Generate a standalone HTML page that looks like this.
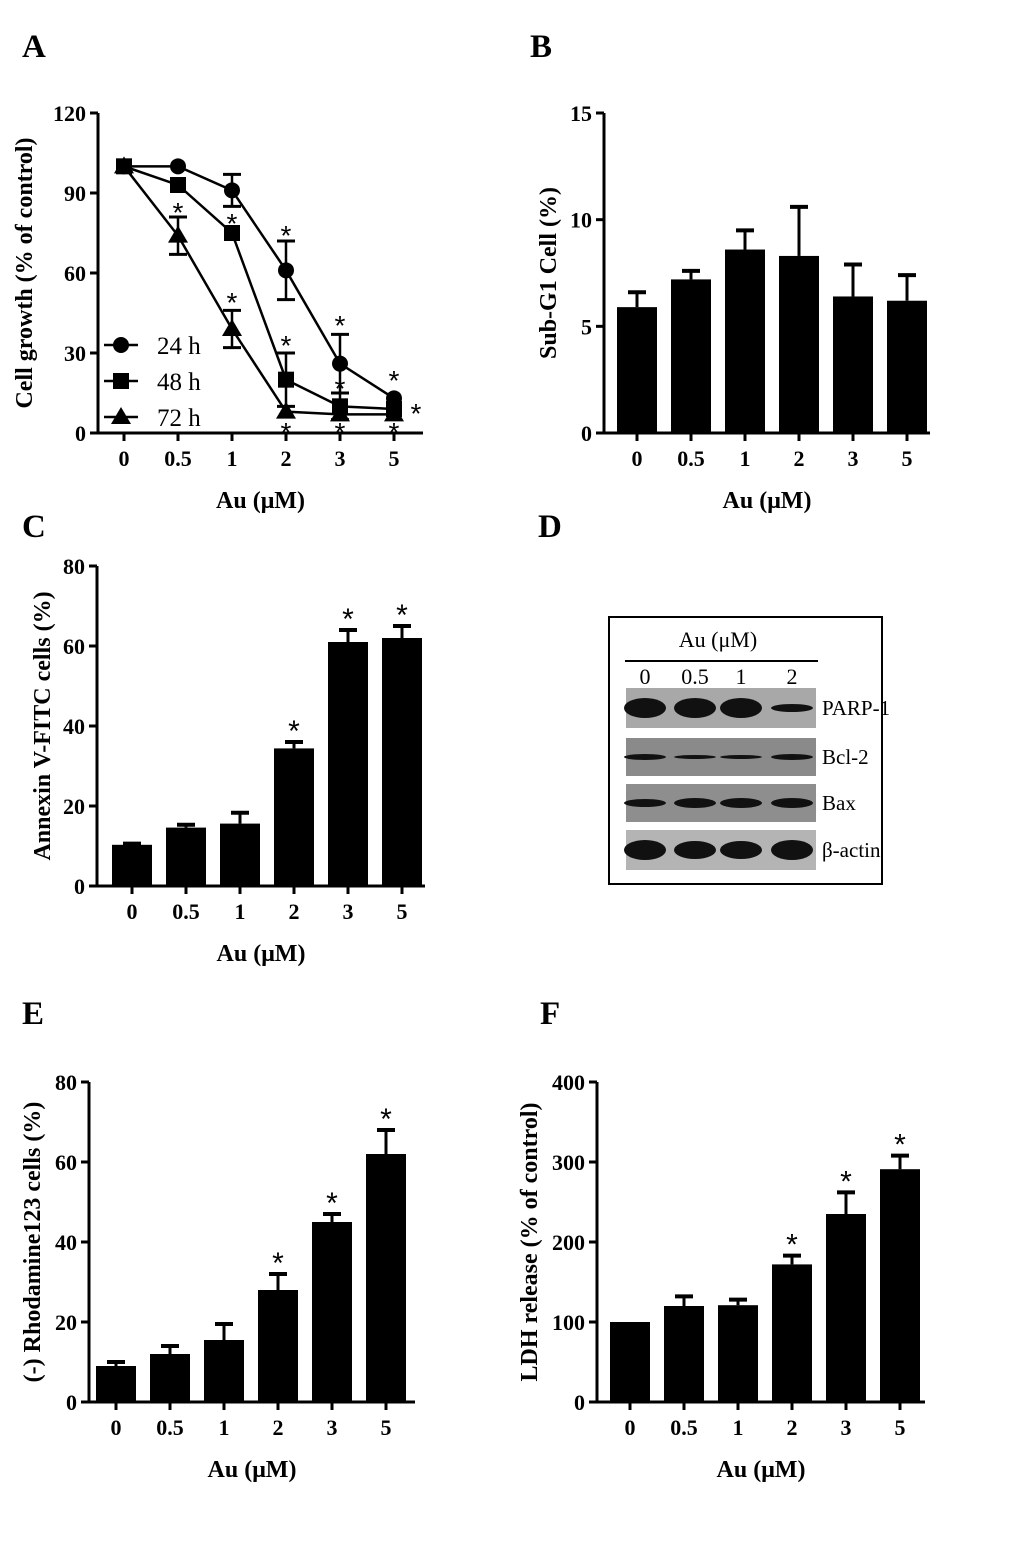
<!DOCTYPE html>
<html><head><meta charset="utf-8"><style>
body{margin:0;background:#fff;}
svg{display:block;font-family:"Liberation Serif",serif;}
.pl{font-size:33px;font-weight:bold;}
.tk{font-size:22px;font-weight:bold;}
.at{font-size:24px;font-weight:bold;}
</style></head><body>
<svg id="fig" width="1033" height="1549" viewBox="0 0 1033 1549">
<text class="pl" x="22" y="57">A</text>
<text class="pl" x="530" y="57">B</text>
<text class="pl" x="22" y="537">C</text>
<text class="pl" x="538" y="537">D</text>
<text class="pl" x="22" y="1024">E</text>
<text class="pl" x="540" y="1024">F</text>
</svg>
<script>
const categories=["0","0.5","1","2","3","5"];
// Panel A
const aTicks=[0,30,60,90,120];
const a24=[100,100,91,61,26,13], a24err=[0,0,6,11,11,0];
const a48=[100,93,75,20,10,9], a48err=[0,0,0,10,5,0];
const a72=[100,74,39,8,7,7], a72err=[0,7,7,0,0,0];
// Panel B
const bTicks=[0,5,10,15];
const bVals=[5.9,7.2,8.6,8.3,6.4,6.2], bErr=[0.7,0.4,0.9,2.3,1.5,1.2], bStar=[0,0,0,0,0,0];
// Panel C
const cTicks=[0,20,40,60,80];
const cVals=[10.3,14.6,15.6,34.4,61,62], cErr=[0.3,0.7,2.7,1.6,3,3], cStar=[0,0,0,1,1,1];
// Panel E
const eTicks=[0,20,40,60,80];
const eVals=[9,12,15.5,28,45,62], eErr=[1,2,4,4,2,6], eStar=[0,0,0,1,1,1];
// Panel F
const fTicks=[0,100,200,300,400];
const fVals=[100,120,121,172,235,291], fErr=[0,12,7,11,27,17], fStar=[0,0,0,1,1,1];

const svg=document.getElementById('fig');
const NS='http://www.w3.org/2000/svg';
function mk(tag,attrs,parent){const e=document.createElementNS(NS,tag);for(const k in attrs)e.setAttribute(k,attrs[k]);(parent||svg).appendChild(e);return e;}

function axes(g,cfg){
  const {x0,y0,y1,xEnd,ymax,ticks,xs,title,tx}=cfg;
  const yS=v=>y0-(v/ymax)*(y0-y1);
  mk('line',{x1:x0,y1:y1,x2:x0,y2:y0,stroke:'#000','stroke-width':3},g);
  mk('line',{x1:x0,y1:y0,x2:xEnd,y2:y0,stroke:'#000','stroke-width':3},g);
  ticks.forEach(t=>{
    mk('line',{x1:x0-8,y1:yS(t),x2:x0,y2:yS(t),stroke:'#000','stroke-width':3},g);
    const tl=mk('text',{x:x0-12,y:yS(t)+8,'text-anchor':'end',class:'tk'},g);
    
    
    tl.textContent=t;
  });
  categories.forEach((c,i)=>{
    mk('line',{x1:xs(i),y1:y0,x2:xs(i),y2:y0+8,stroke:'#000','stroke-width':3},g);
    const tl=mk('text',{x:xs(i),y:y0+33,'text-anchor':'middle',class:'tk'},g);
    
    
    tl.textContent=c;
  });
  const xt=mk('text',{x:(x0+xEnd)/2,y:y0+75,'text-anchor':'middle',class:'at'},g);
  
  
  xt.textContent='Au (\u03bcM)';
  const yt=mk('text',{x:0,y:0,'text-anchor':'middle',class:'at',transform:`translate(${tx},${(y0+y1)/2}) rotate(-90)`},g);
  
  
  yt.textContent=title;
  return yS;
}

function barChart(name,cfg,vals,errs,stars){
  const g=mk('g',{});
  
  
  const xs=i=>cfg.xFirst+i*cfg.dx;
  cfg.xs=xs;
  const yS=axes(g,cfg);
  vals.forEach((v,i)=>{
    const top=yS(v+errs[i]);
    if(errs[i]>0){
      mk('line',{x1:xs(i),y1:yS(v),x2:xs(i),y2:top,stroke:'#000','stroke-width':3},g);
      mk('line',{x1:xs(i)-9,y1:top,x2:xs(i)+9,y2:top,stroke:'#000','stroke-width':4},g);
    }
    const b=mk('rect',{x:xs(i)-20,y:yS(v),width:40,height:cfg.y0-yS(v),fill:'#000'},g);
    
    
    if(stars[i]){
      const s=mk('text',{x:xs(i),y:top-1,'text-anchor':'middle','font-size':30,'font-family':'Liberation Sans, sans-serif'},g);
      
      
      s.textContent='*';
    }
  });
}

barChart('panel-b-chart',{x0:604,y0:433,y1:113,xEnd:930,ymax:15,ticks:bTicks,xFirst:637,dx:54,title:'Sub-G1 Cell (%)',tx:556},bVals,bErr,bStar);
barChart('panel-c-chart',{x0:97,y0:886,y1:566,xEnd:425,ymax:80,ticks:cTicks,xFirst:132,dx:54,title:'Annexin V-FITC cells (%)',tx:50},cVals,cErr,cStar);
barChart('panel-e-chart',{x0:89,y0:1402,y1:1082,xEnd:415,ymax:80,ticks:eTicks,xFirst:116,dx:54,title:'(-) Rhodamine123  cells  (%)',tx:40},eVals,eErr,eStar);
barChart('panel-f-chart',{x0:597,y0:1402,y1:1082,xEnd:925,ymax:400,ticks:fTicks,xFirst:630,dx:54,title:'LDH release (% of control)',tx:537},fVals,fErr,fStar);

// Panel A line chart
(function(){
  const g=mk('g',{});
  
  
  const xs=i=>124+i*54;
  const cfg={x0:98,y0:433,y1:113,xEnd:423,ymax:120,ticks:aTicks,xs:xs,title:'Cell growth (% of control)',tx:32};
  const yS=axes(g,cfg);
  const series=[[a24,a24err,'circle','24 h'],[a48,a48err,'square','48 h'],[a72,a72err,'triangle','72 h']];
  series.forEach(([vals,errs,shape,lab],si)=>{
    const pts=vals.map((v,i)=>xs(i)+','+yS(v)).join(' ');
    const pl=mk('polyline',{points:pts,fill:'none',stroke:'#000','stroke-width':2.5},g);
    
    
    vals.forEach((v,i)=>{
      if(errs[i]>0){
        mk('line',{x1:xs(i),y1:yS(v-errs[i]),x2:xs(i),y2:yS(v+errs[i]),stroke:'#000','stroke-width':2.5},g);
        [v-errs[i],v+errs[i]].forEach(e=>mk('line',{x1:xs(i)-9,y1:yS(e),x2:xs(i)+9,y2:yS(e),stroke:'#000','stroke-width':3},g));
      }
      marker(g,shape,xs(i),yS(v));
    });
    const ly=345+si*36;
    mk('line',{x1:104,y1:ly,x2:138,y2:ly,stroke:'#000','stroke-width':2.5},g);
    marker(g,shape,121,ly);
    const lt=mk('text',{x:157,y:ly+9,'font-size':25,'font-family':'Liberation Serif, serif'},g);
    
    
    lt.textContent=lab;
  });
  const stars=[[178,207],[232,218],[232,297],[286,230],[286,340],[340,320],[340,383],[394,375],[416,408],[286,427],[340,427],[394,427]];
  stars.forEach(([x,y])=>{const s=mk('text',{x:x,y:y+15,'text-anchor':'middle','font-size':28,'font-family':'Liberation Sans, sans-serif'},g);s.textContent='*';});
  function marker(g,shape,x,y){
    let m;
    if(shape==='circle')m=mk('circle',{cx:x,cy:y,r:8,fill:'#000'},g);
    else if(shape==='square')m=mk('rect',{x:x-8,y:y-8,width:16,height:16,fill:'#000'},g);
    else m=mk('polygon',{points:`${x},${y-10} ${x+10},${y+7} ${x-10},${y+7}`,fill:'#000'},g);
    
    
  }
})();

// Panel D western blot
(function(){
  const g=mk('g',{});
  
  
  mk('rect',{x:609,y:617,width:273,height:267,fill:'#fff',stroke:'#000','stroke-width':2},g);
  const h=mk('text',{x:718,y:647,'text-anchor':'middle','font-size':22},g);h.textContent='Au (\u03bcM)';
  mk('line',{x1:625,y1:661,x2:818,y2:661,stroke:'#000','stroke-width':2},g);
  const lanes=["0","0.5","1","2"], lx=[645,695,741,792];
  lanes.forEach((l,i)=>{const t=mk('text',{x:lx[i],y:684,'text-anchor':'middle','font-size':22},g);t.textContent=l;});
  const rows=[['PARP-1',688,728,'#a8a8a8',[10,10,10,4]],['Bcl-2',738,776,'#8a8a8a',[3,2,2,3]],['Bax',784,822,'#8e8e8e',[4,5,5,5]],['\u03b2-actin',830,870,'#b4b4b4',[10,9,9,10]]];
  rows.forEach(([lab,y0,y1,bg,th])=>{
    const r=mk('rect',{x:626,y:y0,width:190,height:y1-y0,fill:bg},g);
    
    
    th.forEach((t,i)=>mk('ellipse',{cx:lx[i],cy:(y0+y1)/2,rx:21,ry:t,fill:'#111'},g));
    const t=mk('text',{x:822,y:(y0+y1)/2+7,'font-size':21},g);t.textContent=lab;
  });
})();
</script>
</body></html>
